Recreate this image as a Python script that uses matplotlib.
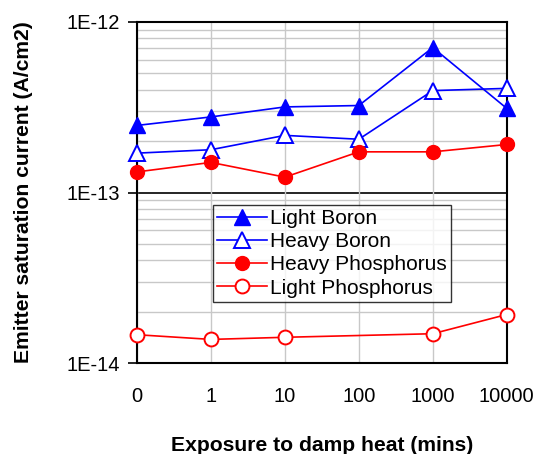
import matplotlib
matplotlib.use("Agg")
import matplotlib.pyplot as plt
import numpy as np
from matplotlib.ticker import LogLocator, NullFormatter, FixedLocator

plt.rcParams['font.family'] = ['Liberation Sans', 'DejaVu Sans']

categories = ["0", "1", "10", "100", "1000", "10000"]
light_boron = [2.47e-13, 2.77e-13, 3.17e-13, 3.23e-13, 7.06e-13, 3.11e-13]
heavy_boron = [1.70e-13, 1.78e-13, 2.16e-13, 2.05e-13, 3.95e-13, 4.07e-13]
heavy_phos = [1.32e-13, 1.50e-13, 1.23e-13, 1.73e-13, 1.73e-13, 1.91e-13]
light_phos_cats = ["0", "1", "10", "1000", "10000"]
light_phos = [1.47e-14, 1.38e-14, 1.42e-14, 1.49e-14, 1.93e-14]

fig = plt.figure(figsize=(5.38, 4.54), dpi=100)
ax = fig.add_axes([137/538, 1-363.3/454, (506.7-137)/538, (363.3-21.7)/454])

xpos = {c: i for i, c in enumerate(categories)}
x = [xpos[c] for c in categories]
xl = [xpos[c] for c in light_phos_cats]

ax.plot(x, light_boron, color='#0000FF', lw=1.2, marker='^', ms=11, mfc='#0000FF', mec='#0000FF', label='Light Boron', zorder=5, clip_on=False)
ax.plot(x, heavy_boron, color='#0000FF', lw=1.2, marker='^', ms=11, mfc='white', mec='#0000FF', mew=1.4, label='Heavy Boron', zorder=5, clip_on=False)
ax.plot(x, heavy_phos, color='#FF0000', lw=1.2, marker='o', ms=10, mfc='#FF0000', mec='#FF0000', label='Heavy Phosphorus', zorder=5, clip_on=False)
ax.plot(xl, light_phos, color='#FF0000', lw=1.2, marker='o', ms=10, mfc='white', mec='#FF0000', mew=1.4, label='Light Phosphorus', zorder=5, clip_on=False)

ax.set_yscale('log')
ax.set_ylim(1e-14, 1e-12)
ax.set_xlim(0, 5)

ax.yaxis.set_major_locator(FixedLocator([1e-14, 1e-13, 1e-12]))
ax.set_yticklabels(['1E-14', '1E-13', '1E-12'])
ax.yaxis.set_minor_locator(LogLocator(base=10, subs=np.arange(2, 10)))
ax.yaxis.set_minor_formatter(NullFormatter())
ax.tick_params(axis='y', which='minor', length=0)
ax.tick_params(axis='y', which='major', length=6.5, width=1.2, direction='out', labelsize=14.5, pad=6)

ax.set_xticks(x)
ax.set_xticklabels(categories)
ax.tick_params(axis='x', length=0, labelsize=14.5, pad=17)

ax.grid(True, axis='y', which='minor', color='#C8C8C8', lw=1)
ax.grid(True, axis='x', which='major', color='#C8C8C8', lw=1)
ax.axhline(1e-13, color='black', lw=1.2, zorder=1)

for s in ax.spines.values():
    s.set_linewidth(1.5)
    s.set_color('black')

ax.set_ylabel('Emitter saturation current (A/cm2)', fontsize=15.2, fontweight='bold', labelpad=24)
ax.set_xlabel('Exposure to damp heat (mins)', fontsize=15.2, fontweight='bold', labelpad=22)

leg = ax.legend(loc='upper left', bbox_to_anchor=((213-137)/369.7, 1-(205-21.7)/341.6),
                fontsize=15, frameon=True, fancybox=False, edgecolor='black',
                handlelength=2.4, borderpad=0.2, labelspacing=0.2, handletextpad=0.15, borderaxespad=0)
leg.get_frame().set_linewidth(1.0)

fig.savefig('out.png', dpi=100)
